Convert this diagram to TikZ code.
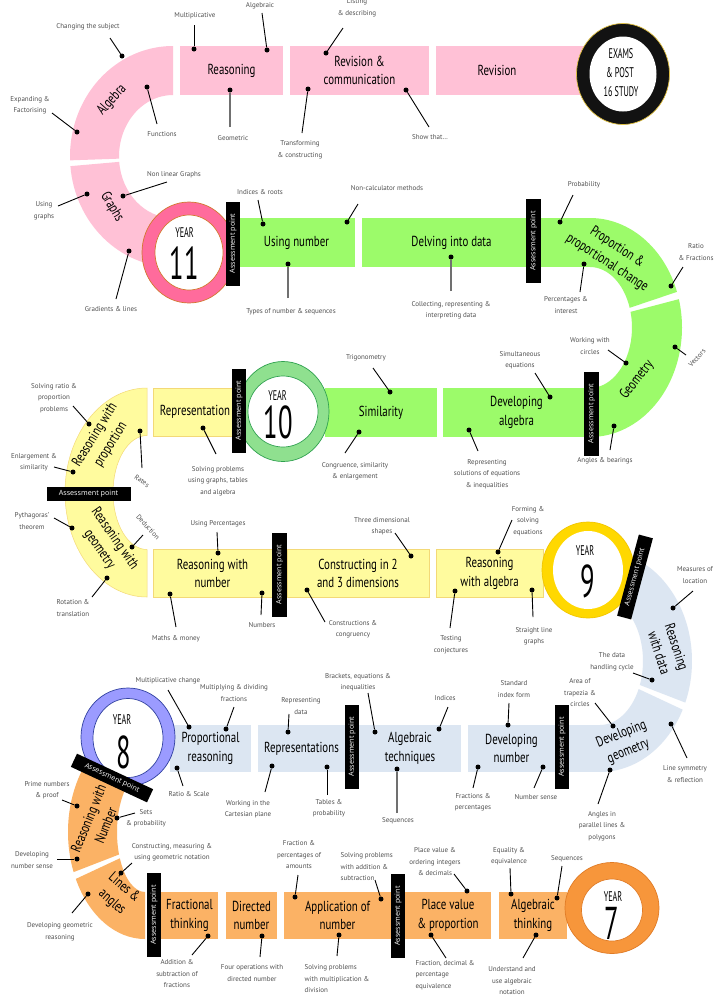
\documentclass[tikz,border=0pt]{standalone}
\usepackage{fontspec}
\setmainfont{PT Sans}
\newfontfamily\titlef[FakeStretch=0.75]{PT Sans}
\newfontfamily\ringf[FakeStretch=0.58]{PT Sans}
\newfontfamily\apf{Open Sans}
\usetikzlibrary{shapes.geometric}
\definecolor{pinkc}{HTML}{FFC1D6}
\definecolor{greenc}{HTML}{9CFB6A}
\definecolor{yelc}{HTML}{FFFB9E}
\definecolor{yeld}{HTML}{F3D977}
\definecolor{bluec}{HTML}{DCE6F2}
\definecolor{orc}{HTML}{FBB265}
\definecolor{labc}{HTML}{505050}
\definecolor{gline}{HTML}{707070}
\definecolor{yA}{HTML}{FF6B9C}\definecolor{yAd}{HTML}{D2782E}
\definecolor{yB}{HTML}{8FE08F}\definecolor{yBd}{HTML}{2FA14F}
\definecolor{yC}{HTML}{FFD800}\definecolor{yCd}{HTML}{F2C500}
\definecolor{yD}{HTML}{9B9BFF}\definecolor{yDd}{HTML}{3040A0}
\definecolor{yE}{HTML}{F7963B}\definecolor{yEd}{HTML}{E07B25}
\definecolor{exd}{HTML}{E0C040}
\newcommand\myband[8]{\fill[#1,shift={(#2)}] (#7:#3 and #4) arc[start angle=#7,end angle=#8,x radius=#3,y radius=#4] -- (#8:#5 and #6) arc[start angle=#8,end angle=#7,x radius=#5,y radius=#6] -- cycle;}
\newcommand\mylab[6][]{\node[lbl,#1] (#2) at (#3) {#4};\coordinate (#2e) at (#5);\node[dot] (#2d) at (#6) {};\draw[conn] (#2e) -- (#2d);}
\newcommand\mylabg[6][]{\node[lbl,#1] (#2) at (#3) {#4};\coordinate (#2e) at (#5);\node[dot] (#2d) at (#6) {};\draw[gconn] (#2e) -- (#2d);}
\begin{document}
\begin{tikzpicture}[x=1pt,y=-1pt,
  box/.style={inner sep=0pt,align=center,font=\titlef\fontsize{14.5}{18.5}\selectfont,text=black},
  pbox/.style={box,fill=pinkc,minimum height=49pt},
  gbox/.style={box,fill=greenc,minimum height=49pt},
  ybox/.style={box,fill=yelc,draw=yeld,line width=0.5pt,minimum height=48pt},
  bbox/.style={box,fill=bluec,minimum height=47pt},
  obox/.style={box,fill=orc,minimum height=47pt},
  arctxt/.style={inner sep=0pt,align=center,font=\titlef\fontsize{14.5}{18.5}\selectfont},
  lbl/.style={inner sep=0.5pt,align=center,text=labc,font=\fontsize{7}{11.5}\selectfont},
  dot/.style={circle,fill=black,inner sep=0pt,minimum size=5pt},
  conn/.style={black,line width=0.9pt},
  gconn/.style={gline,line width=1.6pt},
  apbar/.style={fill=black,text=white,inner sep=0pt,minimum width=84pt,minimum height=14.5pt,font=\apf\fontsize{7.2}{8}\selectfont},
  ringo/.style={ellipse,inner sep=0pt,line width=0.7pt},
  yr/.style={font=\ringf\fontsize{14}{14}\selectfont,inner sep=0pt},
  yn/.style={font=\ringf\fontsize{46}{46}\selectfont,inner sep=0pt},
]
\useasboundingbox (0,0) rectangle (718,997);
\fill[white] (0,0) rectangle (718,997);

% ---- curved bands
\myband{pinkc}{173,156.5}{103}{110.5}{54}{61.5}{270}{178}
\myband{pinkc}{173,156.5}{103}{110.5}{54}{61.5}{175}{90}
\myband{greenc}{590,327.5}{92}{109.5}{42}{60.5}{-90}{-19}
\myband{greenc}{590,327.5}{92}{109.5}{42}{60.5}{-15}{90}
\myband{yelc,draw=yeld,line width=0.5pt}{147,492.5}{82}{104.5}{34}{57}{270}{90}
\myband{bluec}{600,661}{92}{111}{43}{64}{-90}{22}
\myband{bluec}{600,661}{92}{111}{43}{64}{26}{90}
\myband{orc}{145,832}{77}{107}{28}{60}{270}{158}
\myband{orc}{145,832}{77}{107}{28}{60}{154}{90}

% ---- straight fillers
\fill[pinkc] (557,46) rectangle (595,95);
\fill[greenc] (540,218) rectangle (591,267);
\fill[bluec] (568,725) rectangle (601,772);

% ---- boxes
\node[pbox,minimum width=103pt] (reas) at (231.5,70.5) {Reasoning};
\node[pbox,minimum width=139pt] (revcom) at (359.5,70.5) {Revision \&\\communication};
\node[pbox,minimum width=122pt] (revis) at (497,70.5) {Revision};
\node[gbox,minimum width=117pt] (usnum) at (296.5,242.5) {Using number};
\node[gbox,minimum width=179pt] (delv) at (451.5,242.5) {Delving into data};
\node[ybox,minimum width=84pt] (repr) at (195,412) {Representation};
\node[gbox,minimum width=112pt] (simil) at (381,412.5) {Similarity};
\node[gbox,minimum width=147pt] (devalg) at (516.5,412.5) {Developing\\algebra};
\node[ybox,minimum width=119pt] (reasnum) at (212.5,573.5) {Reasoning with\\number};
\node[ybox,minimum width=142pt] (constr) at (358,573.5) {Constructing in 2\\and 3 dimensions};
\node[ybox,minimum width=107pt] (reasalg) at (489.5,573.5) {Reasoning\\with algebra};
\node[bbox,minimum width=81pt] (propr) at (210.5,748.5) {Proportional\\reasoning};
\node[bbox,minimum width=87pt] (reps) at (301.5,748.5) {Representations};
\node[bbox,minimum width=102pt] (algt) at (410,748.5) {Algebraic\\techniques};
\node[bbox,minimum width=87pt] (devnum) at (511.5,748.5) {Developing\\number};
\node[obox,minimum width=57pt] (fract) at (189.5,915.5) {Fractional\\thinking};
\node[obox,minimum width=51pt] (direc) at (251.5,915.5) {Directed\\number};
\node[obox,minimum width=107pt] (appn) at (337.5,915.5) {Application of\\number};
\node[obox,minimum width=86pt] (placev) at (448,915.5) {Place value\\\& proportion};
\node[obox,minimum width=68pt] (algth) at (533,915.5) {Algebraic\\thinking};

% ---- arc texts
\node[arctxt,rotate=48] (algebra) at (112,100) {Algebra};
\node[arctxt,rotate=-59] (graphs) at (112,207) {Graphs};
\node[arctxt,rotate=-33] (propc) at (612,255) {Proportion \&\\proportional change};
\node[arctxt,rotate=52] (geomt) at (637,380) {Geometry};
\node[arctxt,rotate=58] (rwp) at (103,440) {Reasoning with\\proportion};
\node[arctxt,rotate=-55] (rwg) at (107,544) {Reasoning with\\geometry};
\node[arctxt,rotate=-72] (rwd) at (668,650) {Reasoning\\with data};
\node[arctxt,rotate=22] (devgeo) at (625,743) {Developing\\geometry};
\node[arctxt,rotate=68] (rwn) at (97,822) {Reasoning with\\Number};
\node[arctxt,rotate=-41] (linang) at (118,895) {Lines \&\\angles};

% ---- rings
\node[ringo,minimum width=93pt,minimum height=101pt,fill=black!93,draw=exd] (exo) at (623,74) {};
\node[ringo,minimum width=67pt,minimum height=75pt,fill=white] (exi) at (623,74) {};
\node[yr] (ex1) at (621,54) {EXAMS};
\node[yr] (ex2) at (620,73) {\& POST};
\node[yr] (ex3) at (621,92) {16 STUDY};

\node[ringo,minimum width=94pt,minimum height=101pt,fill=yA,draw=yAd] (y11o) at (189,252.5) {};
\node[ringo,minimum width=68pt,minimum height=75pt,fill=white,draw=yAd] (y11i) at (189,252.5) {};
\node[yr] (y11a) at (184.5,233) {YEAR};
\node[yn] (y11b) at (184,263) {11};

\node[ringo,minimum width=92pt,minimum height=100pt,fill=yB,draw=yBd] (y10o) at (283,411.5) {};
\node[ringo,minimum width=70pt,minimum height=71pt,fill=white,draw=yBd] (y10i) at (283,411.5) {};
\node[yr] (y10a) at (277.5,396) {YEAR};
\node[yn] (y10b) at (278,422) {10};

\node[ringo,minimum width=92pt,minimum height=96pt,fill=yC,draw=yCd] (y9o) at (588,570) {};
\node[ringo,minimum width=70pt,minimum height=78pt,fill=white] (y9i) at (588,570) {};
\node[yr] (y9a) at (585,551) {YEAR};
\node[yn] (y9b) at (588,581) {9};

\node[ringo,minimum width=94pt,minimum height=98pt,fill=yD,draw=yDd] (y8o) at (128,737) {};
\node[ringo,minimum width=70pt,minimum height=79pt,fill=white,draw=yDd] (y8i) at (128,738) {};
\node[yr] (y8a) at (122,720) {YEAR};
\node[yn] (y8b) at (124,752) {8};

\node[ringo,minimum width=94pt,minimum height=91pt,fill=yE,draw=yEd] (y7o) at (612,908) {};
\node[ringo,minimum width=61pt,minimum height=62pt,fill=white,draw=yEd] (y7i) at (612,910) {};
\node[yr] (y7a) at (613,897) {YEAR};
\node[yn] (y7b) at (612,923.5) {7};

% ---- assessment bars
\node[apbar,rotate=90] (ap1) at (233,243.5) {Assessment point};
\node[apbar,rotate=90] (ap2) at (533.5,241) {Assessment point};
\node[apbar,rotate=90] (ap3) at (239,410.5) {Assessment point};
\node[apbar,rotate=90] (ap4) at (591.5,413.5) {Assessment point};
\node[apbar] (ap5) at (88.5,494) {Assessment point};
\node[apbar,rotate=90] (ap6) at (279.5,574.5) {Assessment point};
\node[apbar,rotate=75] (ap7) at (635,577) {Assessment point};
\node[apbar,rotate=-25] (ap8) at (112,778) {Assessment point};
\node[apbar,rotate=90] (ap9) at (352,746.5) {Assessment point};
\node[apbar,rotate=90] (ap10) at (562,747) {Assessment point};
\node[apbar,rotate=90] (ap11) at (154,915) {Assessment point};
\node[apbar,rotate=90] (ap12) at (398,916) {Assessment point};

% ---- labels row 1
\mylab{chsub}{88,27}{Changing the subject}{110,38}{122,56}
\mylab{expfac}{30,105}{Expanding \&\\Factorising}{52,113}{77,132}
\mylab{func}{162,134}{Functions}{157,124}{147,87}
\mylab{multv}{195,16}{Multiplicative}{194,25}{194,49}
\mylab{algc}{260,6}{Algebraic}{262,13}{267,50}
\mylabg{geomc}{233,138}{Geometric}{230,127}{230,90}
\mylab{trans}{300,150}{Transforming\\\& constructing}{302,133}{308,89}
\mylab{listd}{357,8}{Listing\\\& describing}{343,28}{326,53}
\mylab{showt}{430,137}{Show that…}{429,127}{406,90}
% row 2
\mylab{usegr}{44,211}{Using\\graphs}{58,206}{87,194}
\mylab{nonlin}{174,175}{Non linear Graphs}{167,182}{123,196}
\mylab{gradl}{111,309}{Gradients \& lines}{116,299}{129,251}
\mylab{indr}{260,192}{Indices \& roots}{258,200}{263,224}
\mylab{noncalc}{387,188}{Non-calculator methods}{358,204}{347,222}
\mylabg{types}{291,312}{Types of number \& sequences}{288,298}{288,264}
\mylabg{collect}{451,310}{Collecting, representing \&\\interpreting data}{451,291}{451,257}
\mylab{prob}{584,185}{Probability}{573,195}{560,222}
\mylab{percint}{566,305}{Percentages \&\\interest}{580,292}{584,264}
\mylab{ratiof}{696,252}{Ratio\\\& Fractions}{683,267}{671,286}
% row 3
\mylab{solvr}{54,398}{Solving ratio \&\\proportion\\problems}{73,406}{89,424}
\mylab{enl}{34,462}{Enlargement \&\\similarity}{54,467}{73,472}
\mylab[rotate=-35]{rates}{142,481}{Rates}{142,468}{140,431}
\mylab{solvg}{218,481}{Solving problems\\using graphs, tables\\and algebra}{216,454}{203,428}
\mylab{trig}{366,358}{Trigonometry}{373,368}{390,392}
\mylab{cong}{355,471}{Congruence, similarity\\\& enlargement}{345,453}{359,432}
\mylab{simeq}{520,360}{Simultaneous\\equations}{535,373}{550,397}
\mylab{repsol}{487,474}{Representing\\solutions of equations\\\& inequalities}{478,451}{469,430}
\mylab{workc}{590,346}{Working with\\circles}{608,350}{626,363}
\mylab[rotate=48]{vect}{697,358}{Vectors}{686,355}{675,347}
\mylab{angb}{605,461}{Angles \& bearings}{610,450}{614,426}
% row 4
\mylab{pyth}{32,521}{Pythagoras'\\theorem}{54,518}{72,528}
\mylab[rotate=-47]{deduc}{148,527}{Deduction}{143,535}{132,547}
\mylab{rott}{73,608}{Rotation \&\\translation}{92,597}{107,578}
\mylab{useperc}{218,524}{Using Percentages}{217,532}{218,553}
\mylab{mathm}{176,639}{Maths \& money}{176,627}{170,594}
\mylab{numbers}{262,625}{Numbers}{261,615}{262,593}
\mylab{constrc}{353,629}{Constructions \&\\congruency}{325,622}{307,590}
\mylab{threed}{382,526}{Three dimensional\\shapes}{395,533}{411,556}
\mylab{formsolve}{528,521}{Forming \&\\solving\\equations}{512,520}{498,552}
\mylab{testc}{451,645}{Testing\\conjectures}{450,628}{455,591}
\mylab{straight}{534,636}{Straight line\\graphs}{533,617}{532,590}
\mylab{measl}{695,575}{Measures of\\location}{693,591}{673,608}
\mylab{datah}{612,662}{The data\\handling cycle}{633,673}{652,680}
% row 5
\mylab{multch}{168,681}{Multiplicative change}{168,690}{189,727}
\mylab{multdiv}{234,693}{Multiplying \& dividing\\fractions}{234,707}{226,729}
\mylab{ratsc}{189,794}{Ratio \& Scale}{183,786}{177,768}
\mylab{repdata}{301,706}{Representing\\data}{289,714}{288,732}
\mylab{cart}{248,809}{Working in the\\Cartesian plane}{265,792}{272,766}
\mylab{tabp}{329,808}{Tables \&\\probability}{327,795}{327,767}
\mylab{brack}{358,682}{Brackets, equations \&\\inequalities}{368,693}{375,732}
\mylab{indices}{445,698}{Indices}{448,707}{439,729}
\mylabg{seqa}{398,821}{Sequences}{397,813}{397,769}
\mylab{stdidx}{514,689}{Standard\\index form}{509,703}{508,725}
\mylab{fracp}{473,802}{Fractions \&\\percentages}{473,788}{478,767}
\mylab{numsense}{536,797}{Number sense}{534,788}{543,767}
\mylab{areat}{580,693}{Area of\\trapezia \&\\circles}{595,703}{613,726}
\mylab{linesym}{685,774}{Line symmetry\\\& reflection}{687,758}{671,724}
\mylab{angpar}{602,826}{Angles in\\parallel lines \&\\polygons}{598,804}{610,770}
% row 6
\mylab{sets}{146,818}{Sets\\\& probability}{135,813}{117,818}
\mylab{prime}{47,790}{Prime numbers\\\& proof}{62,800}{77,806}
\mylab{devns}{32,860}{Developing\\number sense}{57,859}{77,859}
\mylab{constm}{172,852}{Constructing, measuring \&\\using geometric notation}{132,863}{121,873}
\mylab{devgr}{60,932}{Developing geometric\\reasoning}{72,913}{88,894}
\mylab{addsub}{177,974}{Addition \&\\subtraction of\\fractions}{192,955}{208,936}
\mylab{fourop}{252,973}{Four operations with\\directed number}{260,957}{262,936}
\mylab{fracam}{299,855}{Fraction \&\\percentages of\\amounts}{298,875}{295,897}
\mylab[anchor=west,align=left]{solvmd}{304,979}{Solving problems\\with multiplication \&\\division}{337,956}{339,935}
\mylab[anchor=west,align=left]{solvas}{340,867}{Solving problems\\with addition \&\\subtraction}{375,880}{381,899}
\mylab{placevo}{435,862}{Place value \&\\ordering integers\\\& decimals}{454,874}{467,891}
\mylab[anchor=west,align=left]{fdp}{415,975}{Fraction, decimal \&\\percentage\\equivalence}{446,958}{431,935}
\mylab{equal}{509,856}{Equality \&\\equivalence}{510,868}{511,894}
\mylab{seqb}{567,859}{Sequences}{562,866}{557,898}
\mylab{underst}{512,981}{Understand and\\use algebraic\\notation}{523,958}{536,935}
\end{tikzpicture}
\end{document}
